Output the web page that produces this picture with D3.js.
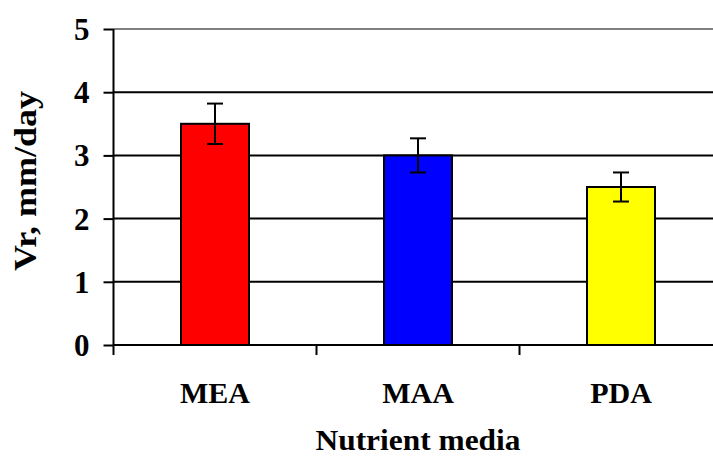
<!DOCTYPE html>
<html>
<head>
<meta charset="utf-8">
<script src="https://cdn.jsdelivr.net/npm/d3@7"></script>
<style>
  html, body { margin: 0; padding: 0; background: #fff; }
  svg { display: block; }
  text { font-family: "Liberation Serif", "Times New Roman", serif; font-weight: bold; fill: #000; }
</style>
</head>
<body>
<svg id="chart" width="713" height="457"></svg>
<script>
const categories = ["MEA", "MAA", "PDA"];
const values = [3.5, 3.0, 2.5];
const errors = [0.32, 0.27, 0.23];
const colors = ["#ff0000", "#0000ff", "#ffff00"];
const yTicks = [0, 1, 2, 3, 4, 5];
const yTitle = "Vr, mm/day";
const xTitle = "Nutrient media";

(function () {
const svg = d3.select("#chart");
const W = 713;
const pLeft = 113.5, pRight = 722.5, pTop = 29, pBottom = 345;

const x = d3.scaleBand().domain(categories).range([pLeft, pRight]).padding(0);
const y = d3.scaleLinear().domain([0, 5]).range([pBottom, pTop]);

// gridlines
svg.append("g").selectAll("line").data(yTicks.filter(d => d > 0)).join("line")
  .attr("x1", pLeft).attr("x2", W)
  .attr("y1", d => y(d)).attr("y2", d => y(d))
  .attr("stroke", d => d === 5 ? "#808080" : "#000")
  .attr("stroke-width", 2);

// bars
const bw = x.bandwidth() * 0.335;
svg.append("g").selectAll("rect").data(categories).join("rect")
  .attr("x", d => x(d) + x.bandwidth() / 2 - bw / 2)
  .attr("y", (d, i) => y(values[i]))
  .attr("width", bw)
  .attr("height", (d, i) => y(0) - y(values[i]))
  .attr("fill", (d, i) => colors[i])
  .attr("stroke", "#000").attr("stroke-width", 2);

// error bars
const eg = svg.append("g").attr("stroke", "#000").attr("stroke-width", 2);
categories.forEach((c, i) => {
  const cx = x(c) + x.bandwidth() / 2;
  const hi = y(values[i] + errors[i]), lo = y(values[i] - errors[i]);
  eg.append("line").attr("x1", cx).attr("x2", cx).attr("y1", hi).attr("y2", lo);
  eg.append("line").attr("x1", cx - 8).attr("x2", cx + 8).attr("y1", hi).attr("y2", hi);
  eg.append("line").attr("x1", cx - 8).attr("x2", cx + 8).attr("y1", lo).attr("y2", lo);
});

// y axis
const yAxis = d3.axisLeft(y).tickValues(yTicks).tickSize(10).tickPadding(14).tickFormat(d3.format("d"));
const ya = svg.append("g").attr("transform", `translate(${pLeft},0)`).call(yAxis);
ya.select(".domain").attr("stroke", "#000").attr("stroke-width", 2).attr("d", `M0,${pTop}V${pBottom}`);
ya.selectAll(".tick line").attr("stroke", "#000").attr("stroke-width", 2);
ya.selectAll(".tick text").attr("font-size", 31).attr("font-family", "Liberation Serif, serif")
  .attr("font-weight", "bold").attr("fill", "#000").attr("dy", "0.34em");

// x axis
const xa = svg.append("g").attr("transform", `translate(0,${pBottom})`);
xa.append("line").attr("x1", pLeft).attr("x2", W).attr("y1", 0).attr("y2", 0)
  .attr("stroke", "#000").attr("stroke-width", 2);
const boundaries = categories.map(c => x(c)).concat([x(categories[categories.length - 1]) + x.bandwidth()]);
xa.selectAll("line.tk").data(boundaries).join("line").attr("class", "tk")
  .attr("x1", d => d).attr("x2", d => d).attr("y1", 0).attr("y2", 10)
  .attr("stroke", "#000").attr("stroke-width", 2);
xa.selectAll("text.cat").data(categories).join("text").attr("class", "cat")
  .attr("x", d => x(d) + x.bandwidth() / 2).attr("y", 57.5)
  .attr("text-anchor", "middle").attr("font-size", 30).text(d => d);

// titles
svg.append("text").attr("x", 418).attr("y", 450).attr("text-anchor", "middle")
  .attr("font-size", 30).attr("textLength", 205).attr("lengthAdjust", "spacingAndGlyphs").text(xTitle);
svg.append("text").attr("transform", "translate(36,181) rotate(-90)")
  .attr("text-anchor", "middle").attr("font-size", 31)
  .attr("textLength", 180).attr("lengthAdjust", "spacingAndGlyphs").text(yTitle);
})();
</script>
</body>
</html>
